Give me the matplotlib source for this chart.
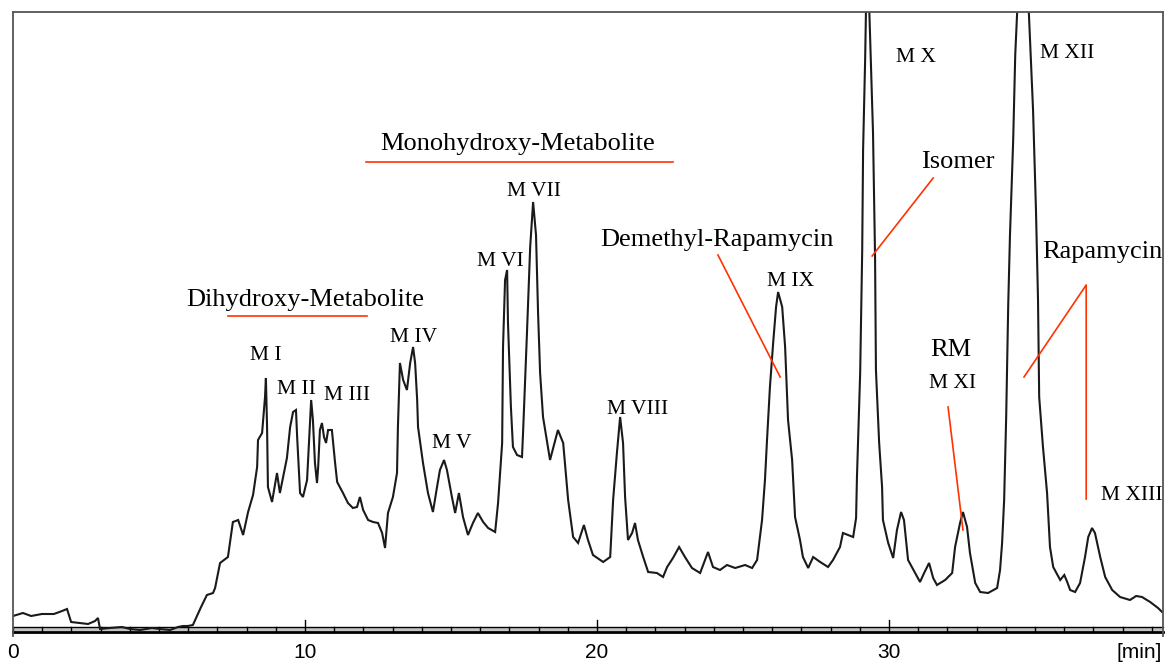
import numpy as np
import matplotlib.pyplot as plt

# retention time [min] and detector signal (arbitrary units above baseline)
time_min = [
    0.00, 0.34, 0.62, 0.99, 1.40, 1.68, 1.85, 1.99, 2.29, 2.57, 2.81, 2.91,
    2.98, 3.32, 3.73, 4.01, 4.35, 4.76, 5.03, 5.38, 5.65, 5.82, 5.99, 6.16,
    6.30, 6.44, 6.64, 6.85, 6.92, 7.09, 7.36, 7.53, 7.71, 7.88, 8.05, 8.22,
    8.36, 8.39, 8.53, 8.63, 8.66, 8.70, 8.73, 8.87, 9.04, 9.14, 9.25, 9.38,
    9.49, 9.59, 9.69, 9.73, 9.83, 9.93, 10.07, 10.10, 10.21, 10.27, 10.34, 10.41,
    10.45, 10.51, 10.58, 10.65, 10.72, 10.79, 10.92, 11.03, 11.10, 11.30, 11.47, 11.64,
    11.78, 11.88, 11.99, 12.16, 12.33, 12.50, 12.64, 12.74, 12.84, 13.01, 13.15, 13.18,
    13.25, 13.36, 13.49, 13.60, 13.70, 13.77, 13.84, 13.87, 14.04, 14.21, 14.38, 14.52,
    14.62, 14.76, 14.86, 15.03, 15.14, 15.27, 15.41, 15.58, 15.75, 15.92, 16.10, 16.27,
    16.51, 16.61, 16.75, 16.78, 16.85, 16.92, 16.95, 17.05, 17.12, 17.26, 17.43, 17.47,
    17.60, 17.71, 17.81, 17.91, 17.98, 18.05, 18.15, 18.39, 18.66, 18.84, 19.01, 19.18,
    19.35, 19.55, 19.69, 19.86, 20.21, 20.45, 20.55, 20.68, 20.79, 20.89, 20.96, 21.06,
    21.20, 21.30, 21.40, 21.58, 21.75, 22.05, 22.26, 22.40, 22.60, 22.81, 23.01, 23.25,
    23.53, 23.80, 23.97, 24.21, 24.45, 24.73, 25.07, 25.31, 25.48, 25.65, 25.75, 25.82,
    25.92, 26.03, 26.13, 26.20, 26.34, 26.44, 26.54, 26.68, 26.78, 26.95, 27.05, 27.23,
    27.40, 27.64, 27.91, 28.08, 28.32, 28.42, 28.77, 28.87, 28.90, 29.01, 29.08, 29.11,
    29.18, 29.25, 29.35, 29.45, 29.52, 29.55, 29.66, 29.76, 29.79, 29.97, 30.14, 30.27,
    30.41, 30.51, 30.65, 30.89, 31.06, 31.20, 31.37, 31.51, 31.64, 31.92, 32.16, 32.26,
    32.43, 32.53, 32.67, 32.77, 32.95, 33.12, 33.39, 33.70, 33.80, 33.87, 33.94, 34.01,
    34.08, 34.14, 34.25, 34.32, 34.38, 34.55, 34.79, 34.93, 35.03, 35.10, 35.14, 35.27,
    35.41, 35.51, 35.62, 35.86, 36.00, 36.10, 36.20, 36.37, 36.54, 36.71, 36.82, 36.95,
    37.05, 37.23, 37.40, 37.64, 37.91, 38.25, 38.46, 38.66, 38.94, 39.21, 39.35,
]
signal = [
    14, 17, 14, 16, 16, 19, 21, 8, 7, 6, 9, 12,
    1, 2, 3, 1, 0, 2, 1, 0, 3, 4, 4, 5,
    14, 23, 35, 37, 42, 67, 73, 108, 110, 95, 118, 135,
    163, 190, 197, 233, 252, 203, 143, 128, 157, 137, 153, 172,
    203, 218, 220, 193, 137, 133, 150, 167, 230, 210, 167, 147,
    163, 200, 207, 193, 187, 200, 200, 167, 148, 137, 127, 122,
    123, 133, 120, 110, 108, 107, 97, 82, 117, 133, 157, 202,
    267, 250, 240, 267, 283, 267, 230, 203, 167, 137, 118, 143,
    160, 170, 160, 133, 117, 137, 113, 95, 107, 117, 108, 102,
    98, 127, 187, 283, 350, 360, 307, 223, 183, 175, 173, 200,
    297, 383, 428, 395, 317, 257, 213, 170, 200, 187, 130, 93,
    87, 105, 90, 75, 68, 73, 130, 177, 213, 187, 133, 90,
    97, 107, 90, 73, 58, 57, 53, 63, 72, 83, 73, 62,
    57, 78, 63, 60, 65, 62, 65, 62, 70, 110, 150, 190,
    243, 287, 323, 338, 323, 283, 210, 170, 113, 90, 73, 62,
    73, 68, 63, 70, 83, 97, 93, 112, 153, 257, 380, 480,
    570, 690, 593, 497, 373, 260, 187, 143, 110, 87, 72, 100,
    118, 110, 70, 57, 48, 57, 67, 52, 45, 50, 57, 83,
    107, 118, 103, 77, 47, 38, 37, 42, 60, 87, 130, 213,
    325, 395, 490, 575, 615, 720, 615, 520, 420, 330, 233, 183,
    137, 83, 63, 50, 55, 48, 40, 38, 47, 73, 93, 102,
    97, 73, 53, 40, 33, 30, 34, 33, 28, 22, 18,
]

# peak names with (time, height) of the label
peak_names = ["M I", "M II", "M III", "M IV", "M V", "M VI", "M VII",
              "M VIII", "M IX", "M X", "M XI", "M XII", "M XIII"]
peak_label_t = [8.66, 9.69, 11.44, 13.70, 15.03, 16.68, 17.84,
                21.40, 26.64, 30.92, 32.19, 36.10, 38.32]
peak_label_y = [275, 240, 235, 293, 186, 368, 438,
                220, 348, 572, 246, 577, 135]

tick_values = [0, 10, 20, 30]
t_max = 39.38

RED = "#ff3300"
SERIF = "Liberation Serif"
SANS = "Liberation Sans"

fig = plt.figure(figsize=(11.71, 6.64), dpi=100)
ax = fig.add_axes([13 / 1171, 28 / 664, 1150 / 1171, 624 / 664])
ax.set_xlim(0, t_max)
ax.set_ylim(-6, 618)
ax.set_xticks([])
ax.set_yticks([])
for side in ["left", "top", "right"]:
    ax.spines[side].set_color("#555555")
    ax.spines[side].set_linewidth(1.3)
ax.spines["bottom"].set_visible(False)

# time axis: double rule with minute ticks
ax.fill_between([0, t_max], -1, 3, color="#c4c4c4", lw=0, clip_on=False)
ax.plot([0, t_max], [3.5, 3.5], color="black", lw=1.0, clip_on=False)
ax.plot([0, t_max], [-2, -2], color="black", lw=2.0, clip_on=False)
for m in range(0, int(t_max) + 1):
    top = 10 if m % 10 == 0 and m > 0 else 3.5
    ax.plot([m, m], [-2, top], color="black", lw=1.0, clip_on=False)

# chromatogram trace
ax.plot(time_min, signal, color="#1a1a1a", lw=1.5, solid_joinstyle="miter")

for name, t, y in zip(peak_names, peak_label_t, peak_label_y):
    ax.text(t, y, name, family=SERIF, fontsize=15.5, ha="center", va="center")

# group labels and red leader lines
ax.text(10.0, 330, "Dihydroxy-Metabolite", family=SERIF, fontsize=19,
        ha="center", va="center")
ax.plot([7.36, 12.12], [314, 314], color=RED, lw=1.2)

ax.text(17.29, 486, "Monohydroxy-Metabolite", family=SERIF, fontsize=19,
        ha="center", va="center")
ax.plot([12.09, 22.60], [468, 468], color=RED, lw=1.2)

ax.text(24.11, 390, "Demethyl-Rapamycin", family=SERIF, fontsize=19,
        ha="center", va="center")
ax.plot([24.14, 26.27], [375, 253], color=RED, lw=1.2)

ax.text(32.36, 468, "Isomer", family=SERIF, fontsize=19, ha="center", va="center")
ax.plot([31.51, 29.42], [452, 374], color=RED, lw=1.2)

ax.text(37.29, 378, "Rapamycin", family=SERIF, fontsize=19, ha="center", va="center")
ax.plot([34.62, 36.75, 36.75], [253, 345, 131], color=RED, lw=1.2)

ax.text(32.12, 280, "RM", family=SERIF, fontsize=19, ha="center", va="center")
ax.plot([32.02, 32.53], [223, 100], color=RED, lw=1.2)

for v in tick_values:
    ax.text(v, -22, str(v), family=SANS, fontsize=15, ha="center", va="center",
            clip_on=False)
ax.text(t_max - 0.03, -22, "[min]", family=SANS, fontsize=15, ha="right",
        va="center", clip_on=False)

fig.savefig("out.png", dpi=100)
